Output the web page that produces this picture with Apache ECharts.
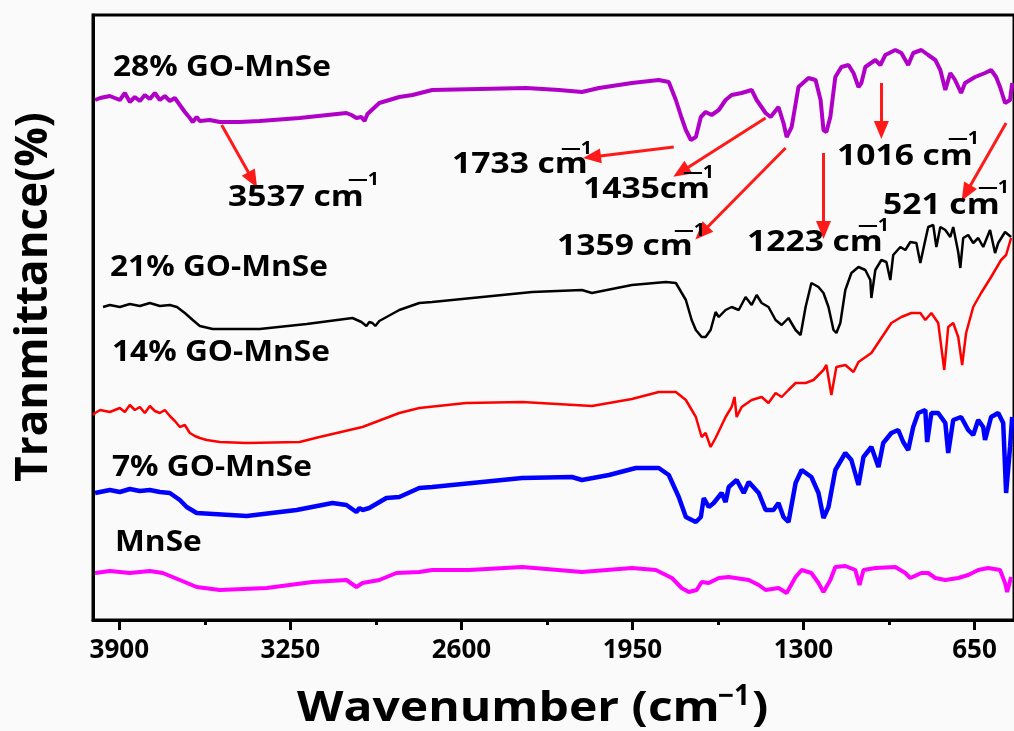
<!DOCTYPE html>
<html>
<head>
<meta charset="utf-8">
<script src="https://cdn.jsdelivr.net/npm/echarts@6/dist/echarts.min.js"></script>
<style>
html,body{margin:0;padding:0;background:#fafafa;}
#chart{width:1014px;height:731px;}
</style>
</head>
<body>
<div id="chart"></div>
<script>
// ---- data: [wavenumber (cm-1), offset transmittance (a.u.)] ----
const seriesNames = ['28% GO-MnSe', '21% GO-MnSe', '14% GO-MnSe', '7% GO-MnSe', 'MnSe'];
const xTicks = [650, 1300, 1950, 2600, 3250, 3900];
const xMinorTicks = [975, 1625, 2275, 2925, 3575];

const go28 = [[3992,520],[3973,522],[3936,524],[3898,520],[3879,527],[3860,518],[3841,523],[3822,519],[3803,525],[3784,521],[3765,527],[3746,520],[3727,524],[3708,519],[3689,522],[3670,515],[3651,508],[3632,502],[3621,498],[3606,503],[3594,499],[3556,500],[3518,498],[3443,498],[3367,499],[3215,502],[3037,507],[3018,505],[2999,502],[2980,503],[2968,499],[2957,506],[2912,517],[2836,523],[2786,525],[2711,530],[2532,531],[2354,532],[2229,530],[2142,528],[2077,532],[1952,537],[1850,540],[1812,538],[1785,520],[1763,502],[1747,490],[1728,480],[1709,483],[1690,503],[1672,508],[1649,505],[1622,510],[1596,520],[1573,525],[1535,527],[1497,530],[1478,520],[1444,507],[1425,503],[1395,513],[1376,497],[1364,483],[1345,493],[1319,533],[1281,542],[1254,540],[1235,520],[1224,490],[1213,488],[1198,503],[1179,543],[1156,553],[1129,555],[1110,547],[1091,533],[1080,537],[1065,553],[1027,560],[1008,555],[989,565],[951,570],[928,567],[902,555],[883,567],[852,570],[826,565],[799,560],[780,550],[761,530],[742,547],[724,540],[701,527],[686,537],[648,543],[610,547],[587,550],[568,543],[553,533],[534,517],[515,520],[507,537]];

const go21 = [[3962,313],[3936,315],[3898,313],[3860,316],[3822,314],[3784,317],[3746,314],[3708,315],[3681,313],[3651,307],[3621,300],[3594,294],[3545,291],[3367,291],[3188,296],[3014,302],[2980,298],[2961,294],[2950,298],[2938,297],[2927,294],[2912,299],[2836,310],[2760,317],[2711,318],[2521,323],[2331,328],[2142,330],[2104,327],[1952,335],[1823,338],[1785,337],[1747,320],[1725,300],[1709,290],[1687,283],[1672,283],[1653,290],[1634,308],[1622,303],[1596,310],[1573,313],[1546,310],[1520,323],[1497,315],[1478,325],[1459,317],[1433,313],[1406,300],[1383,295],[1357,302],[1330,290],[1311,285],[1292,313],[1270,337],[1243,333],[1224,327],[1205,313],[1186,290],[1175,287],[1160,297],[1141,330],[1118,347],[1091,353],[1065,350],[1046,340],[1042,322],[1027,350],[1004,360],[985,358],[970,340],[959,365],[932,373],[913,370],[894,378],[871,377],[856,357],[837,380],[826,393],[807,395],[795,373],[780,393],[761,390],[742,383],[731,393],[712,368],[704,352],[693,382],[674,385],[655,377],[636,382],[617,373],[591,390],[572,367],[560,377],[534,388],[511,383]];

const go14 = [[4000,205],[3992,207],[3973,210],[3936,208],[3898,212],[3879,208],[3860,215],[3841,210],[3822,213],[3803,207],[3784,214],[3765,209],[3746,207],[3727,210],[3708,204],[3689,199],[3670,193],[3651,195],[3632,187],[3613,184],[3594,182],[3568,180],[3518,178],[3416,177],[3215,178],[3139,183],[2976,193],[2836,207],[2760,212],[2582,217],[2369,218],[2104,214],[1952,221],[1850,228],[1785,228],[1747,220],[1709,203],[1687,183],[1672,187],[1653,173],[1634,182],[1596,203],[1573,213],[1562,223],[1554,203],[1535,213],[1497,220],[1459,223],[1433,217],[1406,227],[1383,223],[1357,230],[1330,237],[1292,237],[1262,240],[1224,250],[1213,255],[1194,225],[1175,253],[1141,255],[1110,248],[1091,258],[1042,267],[1004,282],[966,297],[928,303],[890,307],[856,307],[837,300],[814,307],[788,297],[765,250],[750,293],[731,297],[712,283],[697,255],[682,287],[655,313],[625,327],[587,343],[549,360],[530,365],[511,382]];

const go7 = [[3992,127],[3936,130],[3898,128],[3860,131],[3822,129],[3784,130],[3746,128],[3708,127],[3670,120],[3644,113],[3606,107],[3416,104],[3226,110],[3090,117],[3037,115],[2999,108],[2987,112],[2976,110],[2950,112],[2885,122],[2836,123],[2760,132],[2711,133],[2521,138],[2369,142],[2180,143],[2142,140],[2039,145],[1937,152],[1850,152],[1812,145],[1774,123],[1747,103],[1709,98],[1690,103],[1679,122],[1660,113],[1641,117],[1611,127],[1596,118],[1584,133],[1554,140],[1527,127],[1508,138],[1470,127],[1444,110],[1414,110],[1395,117],[1376,103],[1357,98],[1330,137],[1307,150],[1270,143],[1243,127],[1224,102],[1205,113],[1179,150],[1141,167],[1118,160],[1091,135],[1072,163],[1042,173],[1015,153],[997,177],[966,187],[940,190],[921,178],[902,170],[883,193],[864,207],[837,210],[830,178],[814,207],[788,207],[761,197],[750,167],[731,200],[701,203],[674,190],[655,185],[636,200],[617,193],[610,180],[587,203],[560,207],[541,197],[530,127],[515,173],[507,203]];

const mnse = [[3992,47],[3936,49],[3860,47],[3784,49],[3735,47],[3670,40],[3606,33],[3518,30],[3340,32],[3166,38],[3037,40],[2999,33],[2976,37],[2912,40],[2847,47],[2760,48],[2711,50],[2570,50],[2369,53],[2142,48],[1952,52],[1861,50],[1800,42],[1763,32],[1736,28],[1706,30],[1687,38],[1660,37],[1622,42],[1584,43],[1508,40],[1470,35],[1444,30],[1395,32],[1364,27],[1330,43],[1307,50],[1270,47],[1243,37],[1224,28],[1198,40],[1179,53],[1141,54],[1103,50],[1087,35],[1072,50],[1027,52],[951,53],[913,47],[894,42],[852,47],[826,47],[799,42],[761,40],[712,42],[674,45],[636,50],[598,52],[553,50],[534,37],[526,28],[511,43]];

// peak annotations: label and arrow (data coordinates)
const peakLabels = ['3537', '1733', '1435', '1359', '1223', '1016', '521'];
const arrowFrom = [[3511,495],[1793,473],[1444,502],[1368,472],[1224,467],[1004,537],[530,497]];
const arrowTo   = [[3393,440],[2104,463],[1766,448],[1687,387],[1224,390],[1004,490],[682,427]];

// ---- layout / style (pixels) ----
const FONT = '"Open Sans", "DejaVu Sans", sans-serif';
const colors = ['#b000c8', '#000000', '#ff0000', '#0000ff', '#ff00ff'];
const widths = [4, 2.5, 2.5, 4.5, 4];
const nameLabelPos = [[113,68],[110,268],[112,353],[112,468],[115,543]];
// [main text left x, main center y, sup left x, sup center y]
const peakTextPos = [[228,198,348,180],[452,165,561,149],[583,190,683,173],[557,247,674,231],[747,243,858,226],[837,157,948,139],[883,206,978,188]];

const chart = echarts.init(document.getElementById('chart'), null, {renderer: 'canvas'});
const dataSets = [go28, go21, go14, go7, mnse];

const series = dataSets.map((d, i) => ({
  name: seriesNames[i],
  type: 'line',
  data: d,
  showSymbol: false,
  symbol: 'none',
  smooth: false,
  xAxisIndex: 0,
  lineStyle: {color: colors[i], width: widths[i]},
  itemStyle: {color: colors[i]},
  z: 3
}));

series[0].markLine = {
  silent: true,
  animation: false,
  symbol: ['none', 'triangle'],
  symbolSize: [15, 18],
  label: {show: false},
  lineStyle: {color: '#ff1a1a', width: 3, type: 'solid'},
  itemStyle: {color: '#ff1a1a'},
  data: arrowFrom.map((f, i) => [{coord: f}, {coord: arrowTo[i]}])
};

function txt(x, y, text, size, sx) {
  return {
    type: 'text', x: x, y: y, z: 100, scaleX: sx || 1,
    style: {text: text, fill: '#000', font: 'bold ' + size + 'px ' + FONT,
      textAlign: 'left', textVerticalAlign: 'middle', align: 'left', verticalAlign: 'middle'}
  };
}

const graphics = [];
seriesNames.forEach((n, i) => graphics.push(txt(nameLabelPos[i][0], nameLabelPos[i][1], n, 28, 1.13)));
peakLabels.forEach((p, i) => {
  const pos = peakTextPos[i];
  const main = (p === '1435') ? p + 'cm' : p + ' cm';
  graphics.push(txt(pos[0], pos[1], main, 28, 1.2));
  graphics.push(txt(pos[2], pos[3], '\u20141', 18, 1.1));
});
// axis titles
graphics.push(txt(297, 709, 'Wavenumber (cm', 42, 1.144));
graphics.push(txt(718, 697, '\u22121', 28, 1.0));
graphics.push(txt(752, 709, ')', 42, 1.144));
graphics.push({
  type: 'text', x: 34, y: 297, rotation: Math.PI / 2, z: 100,
  style: {text: 'Tranmittance(%)', fill: '#000', font: 'bold 44px ' + FONT,
    textAlign: 'center', textVerticalAlign: 'middle', align: 'center', verticalAlign: 'middle'}
});

chart.setOption({
  animation: false,
  backgroundColor: '#fafafa',
  grid: {left: 93, top: 15, right: -2, bottom: 111, show: true, borderColor: '#000', borderWidth: 3, backgroundColor: 'transparent'},
  xAxis: [{
    type: 'value', inverse: true, min: 500, max: 4000,
    axisLine: {show: true, lineStyle: {color: '#000', width: 3}},
    axisTick: {show: true, customValues: xTicks, length: 10, inside: false, lineStyle: {color: '#000', width: 3}},
    axisLabel: {show: true, customValues: xTicks, margin: 18, color: '#000', fontSize: 26, fontWeight: 'bold', fontFamily: FONT,
      formatter: v => String(v)},
    splitLine: {show: false}
  }, {
    type: 'value', inverse: true, min: 500, max: 4000, position: 'bottom',
    axisLine: {show: false},
    axisTick: {show: true, customValues: xMinorTicks, length: 5, lineStyle: {color: '#000', width: 3}},
    axisLabel: {show: false},
    splitLine: {show: false}
  }],
  yAxis: {
    type: 'value', min: 0, max: 605,
    axisLine: {show: true, lineStyle: {color: '#000', width: 3}},
    axisTick: {show: false}, axisLabel: {show: false}, splitLine: {show: false}
  },
  series: series,
  graphic: graphics
});
</script>
</body>
</html>
